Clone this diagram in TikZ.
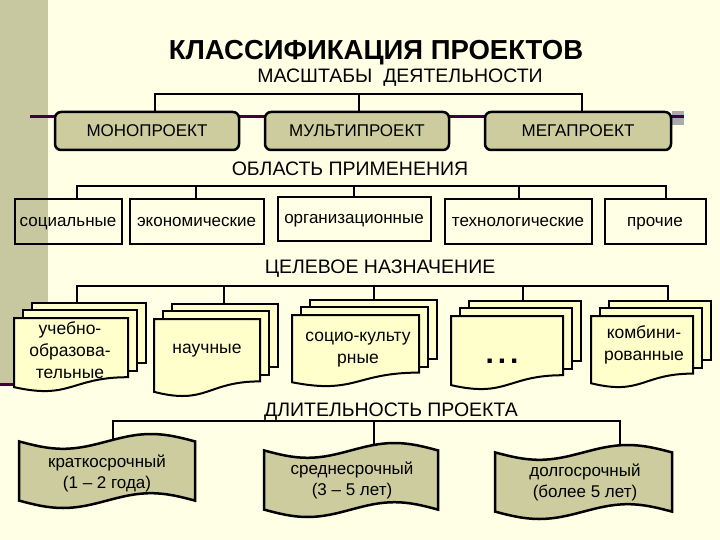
\documentclass[tikz,border=0pt]{standalone}
\usepackage{fontspec}
\setmainfont{Liberation Sans}
\definecolor{bg}{RGB}{255,255,229}
\definecolor{band}{RGB}{200,200,160}
\definecolor{khaki}{RGB}{204,204,158}
\definecolor{sheet}{RGB}{255,255,204}
\definecolor{plum}{RGB}{64,0,64}
\definecolor{greyblk}{RGB}{170,170,170}
\newcommand\mdoc[4]{% x1, x2, top, h
  \pgfmathsetmacro\rb{#3+0.8*#4}%
  \pgfmathsetmacro\lb{#3+0.934*#4}%
  \pgfmathsetmacro\cb{#3+1.108*#4}%
  \pgfmathsetmacro\xm{(#1+#2)/2}%
  \filldraw[sheetst] (#1+18,#3-15) rectangle (#2+18,\rb-14);
  \filldraw[sheetst] (#1+9,#3-8) rectangle (#2+9,\rb-6);
  \filldraw[sheetst] (#1,#3) -- (#2,#3) -- (#2,\rb)
     .. controls (\xm,\rb) and (\xm,\cb) .. (#1,\lb) -- cycle;
}
\newcommand\ptape[4]{% x1, x2, y0, h
  \pgfmathsetmacro\aa{0.1*#4}%
  \pgfmathsetmacro\ww{#2-#1}%
  \filldraw[tapest] (#1,#3+\aa) sin (#1+\ww/4,#3+2*\aa) cos (#1+\ww/2,#3+\aa)
     sin (#1+3*\ww/4,#3) cos (#2,#3+\aa) -- (#2,#3+#4-\aa)
     sin (#1+3*\ww/4,#3+#4-2*\aa) cos (#1+\ww/2,#3+#4-\aa)
     sin (#1+\ww/4,#3+#4) cos (#1,#3+#4-\aa) -- cycle;
}
\begin{document}
\begin{tikzpicture}[x=1pt,y=-1pt,
  conn/.style={draw=black,line width=2pt},
  rbox/.style={draw=black,line width=2.5pt,fill=khaki,rounded corners=6pt,
     minimum height=38pt,inner sep=0pt,font=\fontsize{17}{20}\selectfont},
  sbox/.style={draw=black,line width=2pt,inner sep=0pt,text height=12pt,text depth=2pt,
     font=\fontsize{17}{20}\selectfont},
  head/.style={font=\fontsize{19.5}{22}\selectfont,inner sep=0pt,anchor=base},
  doctext/.style={font=\fontsize{17.5}{22}\selectfont,align=center,inner sep=0pt},
  tapetext/.style={font=\fontsize{17}{21}\selectfont,align=center,inner sep=0pt},
  sheetst/.style={draw=black,line width=2pt,fill=sheet,line join=miter},
  tapest/.style={draw=black,line width=2.5pt,fill=khaki},
  ]
\useasboundingbox (0,0) rectangle (720,540);
\fill[bg] (0,0) rectangle (720,540);
\fill[band] (0,0) rectangle (48,383);
\fill[greyblk] (672,111) rectangle (684,125);
\draw[plum,line width=3pt] (30,117) -- (684,117);
\draw[plum,line width=3pt] (0,384.5) -- (40,384.5);

% headings
\node[font=\fontsize{27.5}{30}\selectfont\bfseries,inner sep=0pt,anchor=base] (title) at (376,60) {КЛАССИФИКАЦИЯ ПРОЕКТОВ};
\node[head] (h1) at (400,83) {МАСШТАБЫ~ ДЕЯТЕЛЬНОСТИ};
\node[head] (h2) at (350,176) {ОБЛАСТЬ ПРИМЕНЕНИЯ};
\node[head] (h3) at (380,273) {ЦЕЛЕВОЕ НАЗНАЧЕНИЕ};
\node[head] (h4) at (391,416) {ДЛИТЕЛЬНОСТЬ ПРОЕКТА};

% row 1
\node[rbox,minimum width=184pt] (mono) at (147,131) {МОНОПРОЕКТ};
\node[rbox,minimum width=184pt] (multi) at (357,131) {МУЛЬТИПРОЕКТ};
\node[rbox,minimum width=186pt] (mega) at (578,131) {МЕГАПРОЕКТ};
\coordinate (a1) at (155,94);
\coordinate (a2) at (359,94);
\coordinate (a3) at (582,94);
\draw[conn] (mono.north -| a1) -- (a1) -- (a3) -- (mega.north -| a3);
\draw[conn] (a2) -- (multi.north -| a2);

% row 2
\node[sbox,minimum width=107pt,minimum height=44pt] (soc) at (68,221.5) {социальные};
\node[sbox,minimum width=134pt,minimum height=44pt] (eco) at (196.5,221.5) {экономические};
\node[sbox,minimum width=153pt,minimum height=43pt] (org) at (354,219) {организационные};
\node[sbox,minimum width=147pt,minimum height=44pt] (tech) at (518,221.5) {технологические};
\node[sbox,minimum width=101pt,minimum height=44pt] (other) at (655,221.5) {прочие};
\coordinate (b1) at (77,186);
\coordinate (b2) at (196,186);
\coordinate (b3) at (354,186);
\coordinate (b4) at (519,186);
\coordinate (b5) at (666,186);
\draw[conn] (soc.north -| b1) -- (b1) -- (b5) -- (other.north -| b5);
\draw[conn] (b2) -- (eco.north -| b2);
\draw[conn] (b3) -- (org.north -| b3);
\draw[conn] (b4) -- (tech.north -| b4);

% row 3
\coordinate (c1) at (77,286);
\coordinate (c2) at (224,286);
\coordinate (c3) at (374,286);
\coordinate (c4) at (523,286);
\coordinate (c5) at (668,286);
\coordinate (u1) at (77,305);
\coordinate (u2) at (224,305);
\coordinate (u3) at (374,302);
\coordinate (u4) at (523,303);
\coordinate (u5) at (668,303);
\draw[conn] (u1) -- (c1) -- (c5) -- (u5);
\draw[conn] (c2) -- (u2);
\draw[conn] (c3) -- (u3);
\draw[conn] (c4) -- (u4);
\mdoc{14}{128}{318}{74}
\mdoc{154}{260}{319}{78}
\mdoc{292}{419}{315}{72}
\mdoc{451}{563}{316}{74}
\mdoc{591}{693}{316}{72}
\node[doctext] (d1) at (70,350) {учебно-\\образова-\\тельные};
\node[doctext] (d2) at (207,351) {научные};
\node[doctext] (d3) at (358,349.5) {социо-культу\\рные};
\node[font=\fontsize{30}{30}\selectfont\bfseries,inner sep=0pt,anchor=base] (d4) at (502,363) {.\hspace{4pt}.\hspace{4pt}.};
\node[doctext] (d5) at (644,345) {комбини-\\рованные};

% row 4
\coordinate (e1) at (113,421);
\coordinate (e2) at (374,421);
\coordinate (e3) at (620,421);
\coordinate (f1) at (113,443);
\coordinate (f2) at (374,448);
\coordinate (f3) at (620,450);
\draw[conn] (f1) -- (e1) -- (e3) -- (f3);
\draw[conn] (e2) -- (f2);
\ptape{19}{195}{434}{74}
\ptape{264}{438}{443}{74}
\ptape{495}{672}{445}{74}
\node[tapetext] (k1) at (107,473) {краткосрочный\\(1 – 2 года)};
\node[tapetext] (k2) at (352,480) {среднесрочный\\(3 – 5 лет)};
\node[tapetext] (k3) at (585,482) {долгосрочный\\(более 5 лет)};
\end{tikzpicture}
\end{document}
